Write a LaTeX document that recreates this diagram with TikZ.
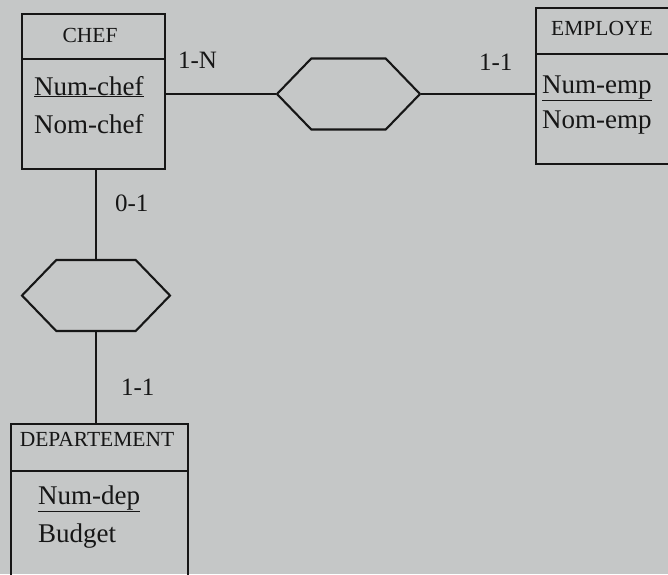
\documentclass[tikz,border=0pt]{standalone}
\usepackage{fontspec}
\setmainfont{Liberation Serif}
\usetikzlibrary{shapes.symbols}
\definecolor{paper}{RGB}{197,199,199}
\definecolor{ink}{RGB}{22,22,22}
\begin{document}
\begin{tikzpicture}[x=1pt,y=-1pt,
  line width=2.1pt, draw=ink,
  header/.style={draw=ink, rectangle, anchor=north west, inner sep=0pt,
    minimum height=#1},
  cardlabel/.style={inner sep=0pt, font=\fontsize{25}{25}\selectfont, text=ink, anchor=base west},
  headtext/.style={inner sep=0pt, font=\fontsize{21.5}{21.5}\selectfont, text=ink, anchor=base},
  attr/.style={inner sep=0pt, font=\fontsize{27}{27}\selectfont, text=ink, anchor=base west},
  relation/.style={draw=ink, signal, signal to=west and east, signal pointer angle=92,
    inner sep=0pt, minimum width=#1, minimum height=71pt}]
  \fill[paper] (0,0) rectangle (668,574);
  \useasboundingbox (0,0) rectangle (668,574);
  \clip (0,0) rectangle (668,574);

  % entity CHEF
  \node[header=45pt, minimum width=143pt] (chefh) at (21,13) {};
  \node[header=110pt, minimum width=143pt] (chefb) at (21,58) {};
  \node[headtext] (chefn) at (90,42) {CHEF};
  \node[attr] (chefa1) at (33,95) {\underline{Num-chef}};
  \node[attr] (chefa2) at (33,133) {Nom-chef};

  % entity EMPLOYE
  \node[header=46pt, minimum width=150pt] (emph) at (535,7) {};
  \node[header=110pt, minimum width=150pt] (empb) at (535,53) {};
  \node[headtext] (empn) at (602,35) {EMPLOYE};
  \node[attr] (empa1) at (541,93) {\underline{Num-emp}};
  \node[attr] (empa2) at (541,128) {Nom-emp};

  % entity DEPARTEMENT
  \node[header=47pt, minimum width=177pt] (deph) at (10,423) {};
  \node[header=140pt, minimum width=177pt] (depb) at (10,470) {};
  \node[headtext] (depn) at (97,446) {DEPARTEMENT};
  \node[attr] (depa1) at (37,504) {\underline{Num-dep}};
  \node[attr] (depa2) at (37,542) {Budget};

  % relationships
  \node[relation=143pt] (dirige) at (348.5,94) {};
  \node[relation=148pt] (gere) at (96,295.5) {};

  % links
  \draw (chefb.east |- dirige.west) -- (dirige.west);
  \draw (dirige.east) -- (dirige.east -| empb.west);
  \draw (gere.north) -- (gere.north |- chefb.south);
  \draw (gere.south) -- (gere.south |- deph.north);

  % cardinalities
  \node[cardlabel] (c1) at (177,68) {1-N};
  \node[cardlabel] (c2) at (478,70) {1-1};
  \node[cardlabel] (c3) at (114,211) {0-1};
  \node[cardlabel] (c4) at (120,395) {1-1};
\end{tikzpicture}
\end{document}
